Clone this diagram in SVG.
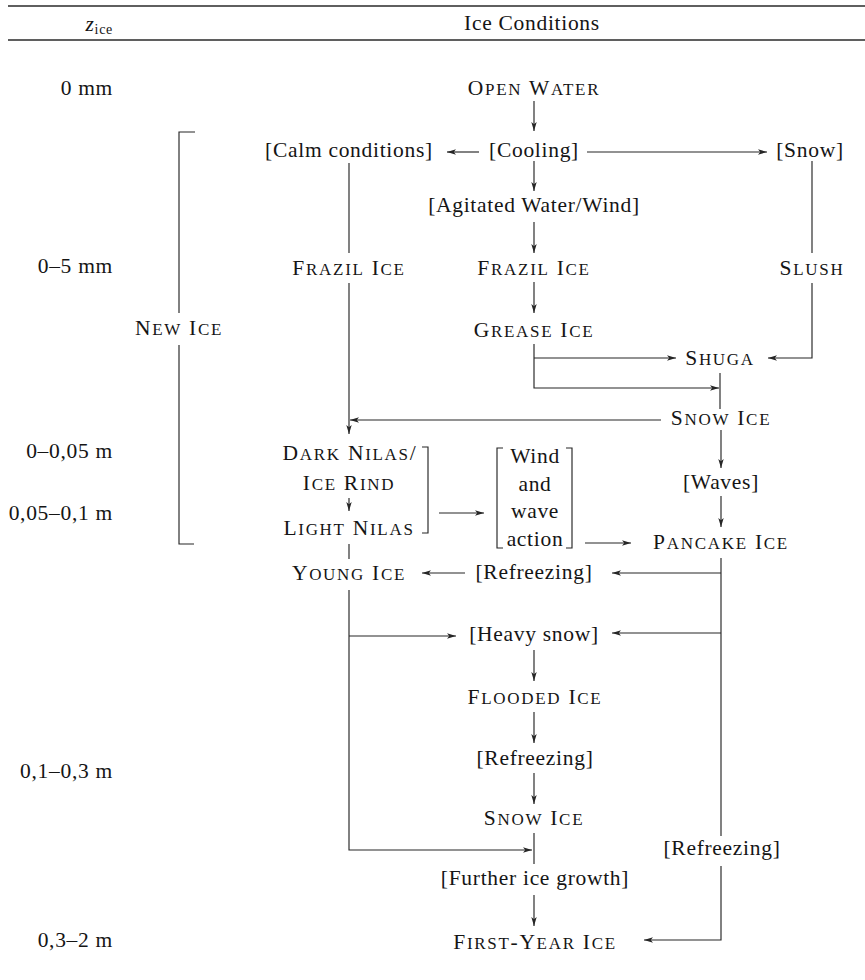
<svg xmlns="http://www.w3.org/2000/svg" width="865" height="980" viewBox="0 0 865 980">
<style>
text{font-family:"Liberation Serif","Times New Roman",serif;font-size:21.5px;fill:#151515;letter-spacing:0.7px}
.m{text-anchor:middle}
.e{text-anchor:end}
.sc{letter-spacing:1.7px}
.s{font-size:17px}
.ln{fill:none;stroke:#262626;stroke-width:1.15}
.rule{fill:none;stroke:#2a2a2a;stroke-width:1.3}
</style>
<defs>
<marker id="ah" viewBox="0 0 10 6" markerWidth="9" markerHeight="5.4" refX="10" refY="3" orient="auto" markerUnits="userSpaceOnUse">
<path d="M0,0 L10,3 L0,6 L2.5,3 Z" fill="#262626"/>
</marker>
</defs>

<g id="header">
<line class="rule" x1="8" y1="6" x2="865" y2="6"/>
<line class="rule" x1="8" y1="40" x2="865" y2="40"/>
<text class="e" x="113" y="31"><tspan font-style="italic">z</tspan><tspan font-size="14" dy="3">ice</tspan></text>
<text class="m" x="532" y="30">Ice Conditions</text>
</g>

<g id="thickness">
<text class="e" x="113" y="95">0 mm</text>
<text class="e" x="113" y="273">0–5 mm</text>
<text class="e" x="113" y="458">0–0,05 m</text>
<text class="e" x="113" y="520">0,05–0,1 m</text>
<text class="e" x="113" y="778">0,1–0,3 m</text>
<text class="e" x="113" y="947">0,3–2 m</text>
</g>

<g id="new-ice">
<path class="ln" d="M195,132 H179 V313 M179,345 V544 H194"/>
<text class="m sc" x="179" y="335">N<tspan class="s">EW</tspan> I<tspan class="s">CE</tspan></text>
</g>

<g id="open-water"><text class="m sc" x="534" y="95">O<tspan class="s">PEN</tspan> W<tspan class="s">ATER</tspan></text></g>
<g id="calm"><text class="m" x="349" y="157">[Calm conditions]</text></g>
<g id="cooling"><text class="m" x="534" y="157">[Cooling]</text></g>
<g id="snow"><text class="m" x="810" y="157">[Snow]</text></g>
<g id="agitated"><text class="m" x="534" y="212">[Agitated Water/Wind]</text></g>
<g id="frazil-calm"><text class="m sc" x="349" y="275">F<tspan class="s">RAZIL</tspan> I<tspan class="s">CE</tspan></text></g>
<g id="frazil-agitated"><text class="m sc" x="534" y="275">F<tspan class="s">RAZIL</tspan> I<tspan class="s">CE</tspan></text></g>
<g id="slush"><text class="m sc" x="812" y="275">S<tspan class="s">LUSH</tspan></text></g>
<g id="grease"><text class="m sc" x="534" y="337">G<tspan class="s">REASE</tspan> I<tspan class="s">CE</tspan></text></g>
<g id="shuga"><text class="m sc" x="720" y="365">S<tspan class="s">HUGA</tspan></text></g>
<g id="snow-ice-1"><text class="m sc" x="721" y="425">S<tspan class="s">NOW</tspan> I<tspan class="s">CE</tspan></text></g>
<g id="nilas">
<text class="m sc" x="350" y="460">D<tspan class="s">ARK</tspan> N<tspan class="s">ILAS</tspan>/</text>
<text class="m sc" x="349" y="490">I<tspan class="s">CE</tspan> R<tspan class="s">IND</tspan></text>
<text class="m sc" x="349" y="535">L<tspan class="s">IGHT</tspan> N<tspan class="s">ILAS</tspan></text>
<path class="ln" d="M422,447 H428 V533 H422"/>
</g>
<g id="waves"><text class="m" x="721" y="489">[Waves]</text></g>
<g id="wind-wave">
<path class="ln" d="M503,448 H497 V548 H503 M566,448 H572 V548 H566"/>
<text class="m" x="535" y="463">Wind</text>
<text class="m" x="535" y="491">and</text>
<text class="m" x="535" y="518">wave</text>
<text class="m" x="535" y="546">action</text>
</g>
<g id="pancake"><text class="m sc" x="721" y="549">P<tspan class="s">ANCAKE</tspan> I<tspan class="s">CE</tspan></text></g>
<g id="young"><text class="m sc" x="349" y="580">Y<tspan class="s">OUNG</tspan> I<tspan class="s">CE</tspan></text></g>
<g id="refreezing-1"><text class="m" x="534" y="579">[Refreezing]</text></g>
<g id="heavy-snow"><text class="m" x="534" y="641">[Heavy snow]</text></g>
<g id="flooded"><text class="m sc" x="535" y="704">F<tspan class="s">LOODED</tspan> I<tspan class="s">CE</tspan></text></g>
<g id="refreezing-2"><text class="m" x="535" y="765">[Refreezing]</text></g>
<g id="snow-ice-2"><text class="m sc" x="534" y="825">S<tspan class="s">NOW</tspan> I<tspan class="s">CE</tspan></text></g>
<g id="further"><text class="m" x="535" y="885">[Further ice growth]</text></g>
<g id="refreezing-3"><text class="m" x="722" y="855">[Refreezing]</text></g>
<g id="first-year"><text class="m sc" x="535" y="949">F<tspan class="s">IRST</tspan>-Y<tspan class="s">EAR</tspan> I<tspan class="s">CE</tspan></text></g>

<g id="connectors">
<line class="ln" x1="534" y1="101" x2="534" y2="131" marker-end="url(#ah)"/>
<line class="ln" x1="479" y1="152" x2="447" y2="152" marker-end="url(#ah)"/>
<line class="ln" x1="587" y1="152" x2="767" y2="152" marker-end="url(#ah)"/>
<line class="ln" x1="534" y1="161" x2="534" y2="191" marker-end="url(#ah)"/>
<line class="ln" x1="534" y1="222" x2="534" y2="253" marker-end="url(#ah)"/>
<line class="ln" x1="349" y1="163" x2="349" y2="253"/>
<line class="ln" x1="349" y1="283" x2="349" y2="434" marker-end="url(#ah)"/>
<line class="ln" x1="812" y1="161" x2="812" y2="253"/>
<polyline class="ln" points="812,283 812,358 768,358" marker-end="url(#ah)"/>
<line class="ln" x1="534" y1="282" x2="534" y2="313" marker-end="url(#ah)"/>
<polyline class="ln" points="534,344 534,388 719,388" marker-end="url(#ah)"/>
<line class="ln" x1="534" y1="358" x2="676" y2="358" marker-end="url(#ah)"/>
<line class="ln" x1="720" y1="373" x2="720" y2="409"/>
<line class="ln" x1="661" y1="420" x2="350" y2="420" marker-end="url(#ah)"/>
<line class="ln" x1="721" y1="430" x2="721" y2="468" marker-end="url(#ah)"/>
<line class="ln" x1="721" y1="496" x2="721" y2="527" marker-end="url(#ah)"/>
<line class="ln" x1="349" y1="498" x2="349" y2="511" marker-end="url(#ah)"/>
<line class="ln" x1="439" y1="513" x2="484" y2="513" marker-end="url(#ah)"/>
<line class="ln" x1="585" y1="543" x2="631" y2="543" marker-end="url(#ah)"/>
<line class="ln" x1="349" y1="544" x2="349" y2="559"/>
<polyline class="ln" points="721,558 721,836"/>
<polyline class="ln" points="721,866 721,940 644,940" marker-end="url(#ah)"/>
<line class="ln" x1="721" y1="573" x2="612" y2="573" marker-end="url(#ah)"/>
<line class="ln" x1="721" y1="633" x2="612" y2="633" marker-end="url(#ah)"/>
<line class="ln" x1="465" y1="573" x2="422" y2="573" marker-end="url(#ah)"/>
<polyline class="ln" points="349,590 349,850 532,850" marker-end="url(#ah)"/>
<line class="ln" x1="349" y1="636" x2="456" y2="636" marker-end="url(#ah)"/>
<line class="ln" x1="534" y1="650" x2="534" y2="681" marker-end="url(#ah)"/>
<line class="ln" x1="534" y1="712" x2="534" y2="743" marker-end="url(#ah)"/>
<line class="ln" x1="534" y1="773" x2="534" y2="804" marker-end="url(#ah)"/>
<line class="ln" x1="534" y1="833" x2="534" y2="864"/>
<line class="ln" x1="534" y1="895" x2="534" y2="926" marker-end="url(#ah)"/>
</g>
</svg>
